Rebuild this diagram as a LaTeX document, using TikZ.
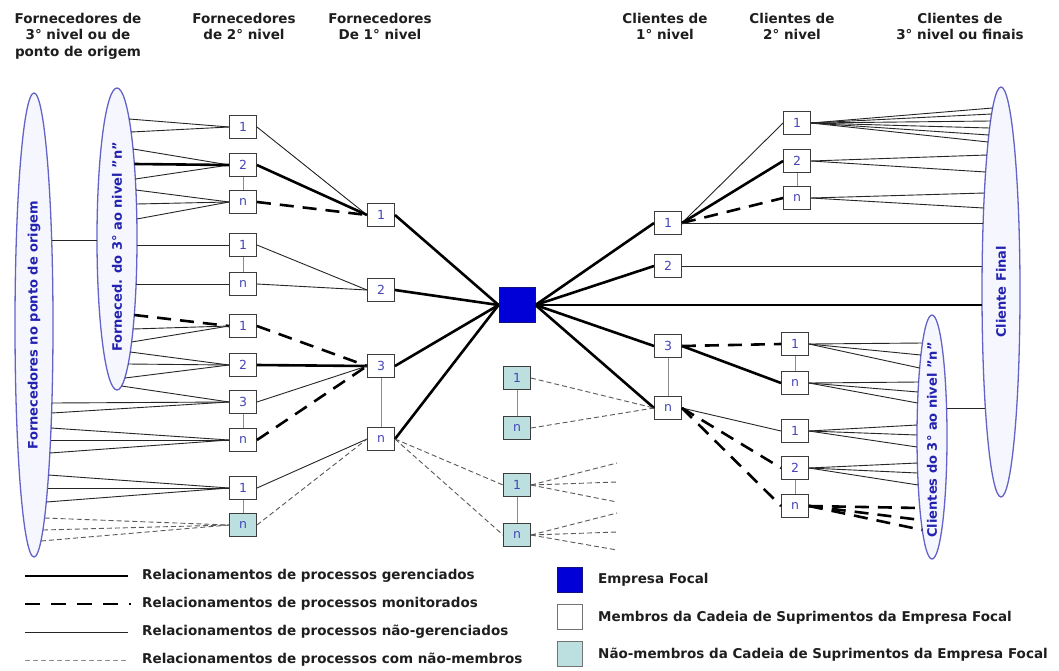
\documentclass[tikz,border=0pt]{standalone}
\usepackage{fontspec}
\setmainfont{DejaVu Sans}
\usetikzlibrary{shapes.geometric}

\definecolor{focalblue}{RGB}{0,0,215}
\definecolor{focaledge}{RGB}{20,20,120}
\definecolor{nonmemfill}{RGB}{188,224,224}
\definecolor{elledge}{RGB}{100,100,200}
\definecolor{ellfill}{RGB}{246,246,255}
\definecolor{elltext}{RGB}{35,35,175}
\definecolor{numtext}{RGB}{70,70,185}
\definecolor{boxedge}{RGB}{60,60,60}
\definecolor{headtext}{RGB}{30,30,30}

% point on the left/right border of an axis-parallel ellipse at height #6
% #1 name, #2 cx, #3 cy, #4 half width, #5 half height, #6 y, #7 side (+1 right, -1 left)
\newcommand\ellpoint[7]{%
  \pgfmathsetmacro\ellpx{#2+(#7)*(#4)*sqrt(max(0,1-((#6-#3)/(#5))*((#6-#3)/(#5))))}%
  \coordinate (#1) at (\ellpx,#6);}

% ellipse geometry: centre x, centre y, half width, half height
\def\eAx{34}\def\eAy{325}\def\eAa{19}\def\eAb{232}
\def\eBx{117}\def\eBy{239}\def\eBa{20}\def\eBb{151}
\def\eCx{1001}\def\eCy{292}\def\eCa{19}\def\eCb{205}
\def\eDx{932}\def\eDy{437}\def\eDa{15}\def\eDb{122}

\newcommand\atEllA[2]{\ellpoint{#1}{\eAx}{\eAy}{\eAa}{\eAb}{#2}{1}}
\newcommand\atEllB[2]{\ellpoint{#1}{\eBx}{\eBy}{\eBa}{\eBb}{#2}{1}}
\newcommand\atEllC[2]{\ellpoint{#1}{\eCx}{\eCy}{\eCa}{\eCb}{#2}{-1}}
\newcommand\atEllD[2]{\ellpoint{#1}{\eDx}{\eDy}{\eDa}{\eDb}{#2}{-1}}

\tikzset{
  member/.style={draw=boxedge, fill=white, line width=0.9pt, minimum width=27pt,
    minimum height=23pt, inner sep=0pt, text=numtext, font=\fontsize{12.5}{12.5}\selectfont},
  nonmember/.style={member, fill=nonmemfill},
  focal/.style={draw=focaledge, line width=0.9pt, fill=focalblue, minimum width=36pt,
    minimum height=35pt, inner sep=0pt},
  group/.style={ellipse, draw=elledge, fill=ellfill, line width=1.3pt, inner sep=0pt},
  grouplabel/.style={rotate=90, inner sep=0pt, text=elltext, font=\bfseries\fontsize{13}{13}\selectfont},
  header/.style={align=center, anchor=north, inner sep=0pt, text=headtext,
    font=\bfseries\fontsize{13.5}{16.5}\selectfont},
  legendtext/.style={anchor=west, inner sep=0pt, text=headtext, font=\bfseries\fontsize{13.5}{13.5}\selectfont},
  managed/.style={line width=2.6pt, black},
  monitored/.style={line width=2.6pt, black, dash pattern=on 14pt off 9pt},
  unmanaged/.style={line width=0.9pt, black!85},
  nonmemrel/.style={line width=0.9pt, black!65, dash pattern=on 5pt off 3pt},
  samelevel/.style={line width=0.8pt, black!45},
}

\begin{document}
\begin{tikzpicture}[x=1pt,y=-1pt]
\useasboundingbox (0,0) rectangle (1059,670);
\fill[white] (0,0) rectangle (1059,670);

% column headings
\node[header] (H1) at (78,13)  {Fornecedores de\\3° nivel ou de\\ponto de origem};
\node[header] (H2) at (244,13) {Fornecedores\\de 2° nivel};
\node[header] (H3) at (380,13) {Fornecedores\\De 1° nivel};
\node[header] (H4) at (665,13) {Clientes de\\1° nivel};
\node[header] (H5) at (792,13) {Clientes de\\2° nivel};
\node[header] (H6) at (960,13) {Clientes de\\3° nivel ou finais};

% groups of suppliers and customers
\node[group, minimum width=2*\eAa, minimum height=2*\eAb] (EA) at (\eAx,\eAy) {};
\node[grouplabel] (EAtext) at (\eAx,325) {Fornecedores no ponto de origem};
\node[group, minimum width=2*\eBa, minimum height=2*\eBb] (EB) at (\eBx,\eBy) {};
\node[grouplabel] (EBtext) at (\eBx,247) {Forneced. do 3° ao nivel "n"};
\node[group, minimum width=2*\eCa, minimum height=2*\eCb] (EC) at (\eCx,\eCy) {};
\node[grouplabel] (ECtext) at (\eCx,292) {Cliente Final};
\node[group, minimum width=2*\eDa, minimum height=2*\eDb] (ED) at (\eDx,\eDy) {};
\node[grouplabel] (EDtext) at (\eDx,440) {Clientes do 3° ao nivel "n"};

% level-2 suppliers
\node[member] (A1) at (243,127) {1};
\node[member] (A2) at (243,165) {2};
\node[member] (An) at (243,202) {n};
\node[member] (B1) at (243,245) {1};
\node[member] (Bn) at (243,284) {n};
\node[member] (C1) at (243,326) {1};
\node[member] (C2) at (243,365) {2};
\node[member] (C3) at (243,402) {3};
\node[member] (Cn) at (243,440) {n};
\node[member] (D1) at (243,488) {1};
\node[nonmember] (Dn) at (243,525) {n};
% level-1 suppliers
\node[member] (S1) at (381,215) {1};
\node[member] (S2) at (381,290) {2};
\node[member] (S3) at (381,366) {3};
\node[member] (Sn) at (381,439) {n};
% focal company and non-members
\node[focal] (F) at (517,305) {};
\node[nonmember] (M1) at (517,378) {1};
\node[nonmember] (Mn) at (517,428) {n};
\node[nonmember] (N1) at (517,485) {1};
\node[nonmember] (Nn) at (517,535) {n};
% level-1 customers
\node[member] (R1) at (668,223) {1};
\node[member] (R2) at (668,266) {2};
\node[member] (R3) at (668,346) {3};
\node[member] (Rn) at (668,408) {n};
% level-2 customers
\node[member] (T1) at (797,123) {1};
\node[member] (T2) at (797,161) {2};
\node[member] (Tn) at (797,198) {n};
\node[member] (U1) at (795,344) {1};
\node[member] (Un) at (795,383) {n};
\node[member] (V1) at (795,431) {1};
\node[member] (V2) at (795,468) {2};
\node[member] (Vn) at (795,506) {n};

% links inside a level
\foreach \a/\b in {A2/An, B1/Bn, C3/Cn, D1/Dn, S3/Sn, M1/Mn, N1/Nn, R3/Rn, T2/Tn, U1/Un, V2/Vn}
  \draw[samelevel] (\a.south) -- (\b.north);

% the two supplier groups
\ellpoint{ab1}{\eAx}{\eAy}{\eAa}{\eAb}{240}{1}
\ellpoint{ab2}{\eBx}{\eBy}{\eBa}{\eBb}{240}{-1}
\draw[unmanaged] (ab1) -- (ab2);

% supplier groups to level-2 suppliers
\foreach \yy [count=\k] in {119,132} {\atEllB{fa\k}{\yy} \draw[unmanaged] (fa\k) -- (A1.west);}
\foreach \yy [count=\k] in {149,179} {\atEllB{fb\k}{\yy} \draw[unmanaged] (fb\k) -- (A2.west);}
\atEllB{fb3}{164} \draw[managed] (fb3) -- (A2.west);
\foreach \yy [count=\k] in {190,204,219} {\atEllB{fc\k}{\yy} \draw[unmanaged] (fc\k) -- (An.west);}
\atEllB{fd1}{245} \draw[unmanaged] (fd1) -- (B1.west);
\atEllB{fe1}{284} \draw[unmanaged] (fe1) -- (Bn.west);
\atEllB{ff1}{315} \draw[monitored] (ff1) -- (C1.west);
\foreach \yy [count=\k] in {329,342} {\atEllB{fg\k}{\yy} \draw[unmanaged] (fg\k) -- (C1.west);}
\foreach \yy [count=\k] in {352,364,378} {\atEllB{fh\k}{\yy} \draw[unmanaged] (fh\k) -- (C2.west);}
\atEllB{fi1}{386} \draw[unmanaged] (fi1) -- (C3.west);
\foreach \yy [count=\k] in {403,413} {\atEllA{fj\k}{\yy} \draw[unmanaged] (fj\k) -- (C3.west);}
\foreach \yy [count=\k] in {428,440,453} {\atEllA{fk\k}{\yy} \draw[unmanaged] (fk\k) -- (Cn.west);}
\foreach \yy [count=\k] in {475,488,502} {\atEllA{fl\k}{\yy} \draw[unmanaged] (fl\k) -- (D1.west);}
\foreach \yy [count=\k] in {518,530,541} {\atEllA{fm\k}{\yy} \draw[nonmemrel] (fm\k) -- (Dn.west);}

% level-2 to level-1 suppliers
\draw[unmanaged] (A1.east) -- (S1.west);
\draw[managed]   (A2.east) -- (S1.west);
\draw[monitored] (An.east) -- (S1.west);
\draw[unmanaged] (B1.east) -- (S2.west);
\draw[unmanaged] (Bn.east) -- (S2.west);
\draw[monitored] (C1.east) -- (S3.west);
\draw[managed]   (C2.east) -- (S3.west);
\draw[unmanaged] (C3.east) -- (S3.west);
\draw[monitored] (Cn.east) -- (S3.west);
\draw[unmanaged] (D1.east) -- (Sn.west);
\draw[nonmemrel] (Dn.east) -- (Sn.west);

% level-1 suppliers to the focal company
\foreach \s in {S1,S2,S3,Sn} \draw[managed] (\s.east) -- (F.west);
\draw[nonmemrel] (Sn.east) -- (N1.west);
\draw[nonmemrel] (Sn.east) -- (Nn.west);
\foreach \yy [count=\k] in {463,482,502} {\coordinate (na\k) at (617,\yy); \draw[nonmemrel] (N1.east) -- (na\k);}
\foreach \yy [count=\k] in {513,532,550} {\coordinate (nb\k) at (617,\yy); \draw[nonmemrel] (Nn.east) -- (nb\k);}

% focal company to customers
\foreach \r in {R1,R2,R3,Rn} \draw[managed] (F.east) -- (\r.west);
\atEllC{fz}{305} \draw[managed] (F.east) -- (fz);
\draw[nonmemrel] (M1.east) -- (Rn.west);
\draw[nonmemrel] (Mn.east) -- (Rn.west);

% level-1 to level-2 customers
\draw[unmanaged] (R1.east) -- (T1.west);
\draw[managed]   (R1.east) -- (T2.west);
\draw[monitored] (R1.east) -- (Tn.west);
\atEllC{ra}{223} \draw[unmanaged] (R1.east) -- (ra);
\atEllC{rb}{266} \draw[unmanaged] (R2.east) -- (rb);
\draw[monitored] (R3.east) -- (U1.west);
\draw[managed]   (R3.east) -- (Un.west);
\draw[unmanaged] (Rn.east) -- (V1.west);
\draw[monitored] (Rn.east) -- (V2.west);
\draw[monitored] (Rn.east) -- (Vn.west);

% level-2 customers to customer groups
\foreach \yy [count=\k] in {108,114,121,128,135,142} {\atEllC{ta\k}{\yy} \draw[unmanaged] (T1.east) -- (ta\k);}
\foreach \yy [count=\k] in {155,172} {\atEllC{tb\k}{\yy} \draw[unmanaged] (T2.east) -- (tb\k);}
\foreach \yy [count=\k] in {193,208} {\atEllC{tc\k}{\yy} \draw[unmanaged] (Tn.east) -- (tc\k);}
\foreach \yy [count=\k] in {343,355,368} {\atEllD{ua\k}{\yy} \draw[unmanaged] (U1.east) -- (ua\k);}
\foreach \yy [count=\k] in {382,392,403} {\atEllD{ub\k}{\yy} \draw[unmanaged] (Un.east) -- (ub\k);}
\foreach \yy [count=\k] in {425,435,447} {\atEllD{va\k}{\yy} \draw[unmanaged] (V1.east) -- (va\k);}
\foreach \yy [count=\k] in {463,473,485} {\atEllD{vb\k}{\yy} \draw[unmanaged] (V2.east) -- (vb\k);}
\foreach \yy [count=\k] in {508,520,530} {\atEllD{vc\k}{\yy} \draw[monitored] (Vn.east) -- (vc\k);}

% the two customer groups
\ellpoint{cd1}{\eDx}{\eDy}{\eDa}{\eDb}{408}{1}
\atEllC{cd2}{408}
\draw[unmanaged] (cd1) -- (cd2);

% legend: relationships
\coordinate (la1) at (25,576);  \coordinate (la2) at (128,576);
\coordinate (lb1) at (25,604);  \coordinate (lb2) at (131,604);
\coordinate (lc1) at (25,632);  \coordinate (lc2) at (128,632);
\coordinate (ld1) at (25,660);  \coordinate (ld2) at (128,660);
\draw[managed] (la1) -- (la2);
\draw[monitored, dash pattern=on 15pt off 11pt] (lb1) -- (lb2);
\draw[unmanaged] (lc1) -- (lc2);
\draw[nonmemrel, black!45] (ld1) -- (ld2);
\node[legendtext] (ta) at (142,576) {Relacionamentos de processos gerenciados};
\node[legendtext] (tb) at (142,604) {Relacionamentos de processos monitorados};
\node[legendtext] (tc) at (142,632) {Relacionamentos de processos não-gerenciados};
\node[legendtext] (td) at (142,660) {Relacionamentos de processos com não-membros};

% legend: kinds of companies
\node[focal, minimum width=25pt, minimum height=25pt] (ka) at (570,580) {};
\node[member, minimum width=25pt, minimum height=25pt, line width=1.3pt, draw=black!55] (kb) at (570,617) {};
\node[nonmember, minimum width=25pt, minimum height=25pt, line width=1.3pt, draw=black!55] (kc) at (570,654) {};
\node[legendtext] (te) at (598,580) {Empresa Focal};
\node[legendtext] (tf) at (598,618) {Membros da Cadeia de Suprimentos da Empresa Focal};
\node[legendtext] (tg) at (598,655) {Não-membros da Cadeia de Suprimentos da Empresa Focal};
\end{tikzpicture}
\end{document}
